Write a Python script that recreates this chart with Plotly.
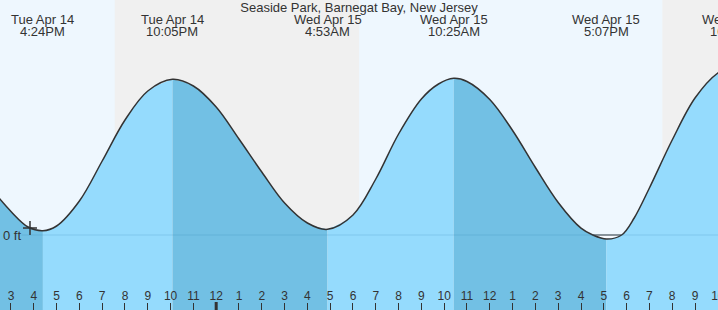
import plotly.graph_objects as go
import pandas as pd
import numpy as np

# ---------------- data ----------------
title_text = "Seaside Park, Barnegat Bay, New Jersey"

curve_times = [
    "2026-04-14 14:00", "2026-04-14 15:00", "2026-04-14 15:45", "2026-04-14 16:24",
    "2026-04-14 17:00", "2026-04-14 18:00", "2026-04-14 19:00", "2026-04-14 20:00",
    "2026-04-14 21:00", "2026-04-14 22:05", "2026-04-14 23:00",
    "2026-04-15 00:00", "2026-04-15 01:00", "2026-04-15 02:00", "2026-04-15 03:00",
    "2026-04-15 04:00", "2026-04-15 04:53", "2026-04-15 06:00",
    "2026-04-15 07:00", "2026-04-15 08:00", "2026-04-15 09:00", "2026-04-15 09:45",
    "2026-04-15 10:25", "2026-04-15 11:00", "2026-04-15 12:00", "2026-04-15 13:00",
    "2026-04-15 14:00", "2026-04-15 15:00", "2026-04-15 16:00", "2026-04-15 16:31",
    "2026-04-15 17:07", "2026-04-15 17:47", "2026-04-15 18:20",
    "2026-04-15 19:00", "2026-04-15 20:00", "2026-04-15 21:00", "2026-04-15 22:00",
    "2026-04-15 22:48",
]
curve_ft = [
    0.50, 0.235, 0.08, 0.043,
    0.09, 0.34, 0.74, 1.15,
    1.44, 1.557, 1.49,
    1.28, 0.96, 0.63, 0.32,
    0.12, 0.057, 0.20,
    0.56, 1.01, 1.36, 1.51,
    1.567, 1.535, 1.355, 1.045,
    0.675, 0.325, 0.068, 0.0,
    -0.04, 0.0, 0.17,
    0.47, 0.95, 1.37, 1.62,
    1.70,
]

extreme_times = ["2026-04-14 16:24", "2026-04-14 22:05", "2026-04-15 04:53",
                 "2026-04-15 10:25", "2026-04-15 17:07", "2026-04-15 22:48"]
extreme_date_labels = ["Tue Apr 14", "Tue Apr 14", "Wed Apr 15",
                       "Wed Apr 15", "Wed Apr 15", "Wed Apr 15"]
extreme_time_labels = ["4:24PM", "10:05PM", "4:53AM", "10:25AM", "5:07PM", "10:48PM"]

night_starts = ["2026-04-14 19:33", "2026-04-15 19:34"]   # sunset
night_ends = ["2026-04-15 06:16", "2026-04-16 06:15"]     # sunrise

now_time = ["2026-04-14 15:50"]
now_ft = [0.07]

view_start = "2026-04-14 14:31:05"
view_end = "2026-04-15 22:00:32"
y_range = [-0.75, 2.35]
zero_label = "0 ft"

tick_times = pd.date_range("2026-04-14 15:00", "2026-04-15 22:00", freq="h")
tick_labels = [str((t.hour + 11) % 12 + 1) for t in tick_times]
midnight = "2026-04-15 00:00"

# ---------------- styles ----------------
FONT = "Liberation Sans, Arial, sans-serif"
TXT = "#333333"
DAY_BG = "#eef7fe"
NIGHT_BG = "#f0f0f0"
RISE_FILL = "#95dbfd"
FALL_FILL = "#72c0e4"
H = 310

ct = pd.to_datetime(curve_times)
cv = np.array(curve_ft)
ext = pd.to_datetime(extreme_times)

fig = go.Figure()

# below-zero pocket (area between 0 ft and the curve where it dips below 0)
neg = cv <= 0
fig.add_trace(go.Scatter(x=ct[neg], y=np.zeros(neg.sum()), mode="lines",
                         line=dict(color=TXT, width=1), hoverinfo="skip", showlegend=False))
fig.add_trace(go.Scatter(x=ct[neg], y=cv[neg], mode="lines",
                         line=dict(width=0, shape="spline"), fill="tonexty",
                         fillcolor="#f8fbff", hoverinfo="skip", showlegend=False))

# filled segments: rising = light, falling = dark
bounds = [ct[0]] + list(ext) + [ct[-1]]
for b0, b1 in zip(bounds[:-1], bounds[1:]):
    m = (ct >= b0) & (ct <= b1)
    if m.sum() < 2:
        continue
    sx, sy = ct[m], cv[m]
    color = RISE_FILL if sy[-1] > sy[0] else FALL_FILL
    fig.add_trace(go.Scatter(x=sx, y=np.full(len(sx), y_range[0]), mode="lines",
                             line=dict(width=0), hoverinfo="skip", showlegend=False))
    fig.add_trace(go.Scatter(x=sx, y=sy, mode="lines",
                             line=dict(width=0, shape="spline"), fill="tonexty",
                             fillcolor=color, hoverinfo="skip", showlegend=False))

# tide curve
fig.add_trace(go.Scatter(x=ct, y=cv, mode="lines",
                         line=dict(color=TXT, width=1.5, shape="spline"),
                         hoverinfo="skip", showlegend=False))

# current-time marker
fig.add_trace(go.Scatter(x=pd.to_datetime(now_time), y=now_ft, mode="markers",
                         marker=dict(symbol="cross-thin", size=10,
                                     line=dict(color=TXT, width=1.5)),
                         hoverinfo="skip", showlegend=False))

shapes = []
for s, e in zip(night_starts, night_ends):
    shapes.append(dict(type="rect", xref="x", yref="paper", x0=s, x1=e, y0=0, y1=1,
                       fillcolor=NIGHT_BG, line=dict(width=0), layer="below"))
# 0 ft reference line
shapes.append(dict(type="line", xref="paper", yref="y", x0=0.03, x1=1, y0=0, y1=0,
                   line=dict(color="rgba(40,120,170,0.2)", width=1), layer="above"))
# midnight tick
shapes.append(dict(type="line", xref="x", yref="paper", x0=midnight, x1=midnight,
                   y0=0, y1=8 / H, line=dict(color=TXT, width=3), layer="above"))

t0, t1 = pd.Timestamp(view_start), pd.Timestamp(view_end)
annotations = []
for t, dl, tl in zip(ext, extreme_date_labels, extreme_time_labels):
    frac = (t - t0) / (t1 - t0)
    for txt, ypos in ((dl, 1 - 20 / H), (tl, 1 - 31.5 / H)):
        annotations.append(dict(xref="paper", yref="paper", x=frac, y=ypos,
                                text=txt, showarrow=False, xanchor="center",
                                yanchor="middle",
                                font=dict(family=FONT, size=13, color=TXT)))
annotations.append(dict(xref="paper", yref="y", x=0, y=0, xanchor="left",
                        yanchor="middle", xshift=1, text=zero_label, showarrow=False,
                        font=dict(family=FONT, size=13, color=TXT)))

fig.update_layout(
    width=718, height=H,
    margin=dict(l=0, r=0, t=0, b=0, autoexpand=False),
    paper_bgcolor=DAY_BG, plot_bgcolor=DAY_BG,
    title=dict(text=title_text, x=0.5, xanchor="center", y=1 - 7.5 / H,
               yanchor="middle", font=dict(family=FONT, size=13, color=TXT)),
    xaxis=dict(type="date", range=[view_start, view_end], showgrid=False,
               zeroline=False, showline=False, anchor="free", position=8 / H,
               side="top", ticks="inside", ticklen=8, automargin=False,
               tickwidth=1, tickcolor=TXT, tickvals=list(tick_times),
               ticktext=tick_labels, ticklabeloverflow="allow",
               tickfont=dict(family=FONT, size=12, color=TXT), fixedrange=True),
    yaxis=dict(range=y_range, showgrid=False, zeroline=False, showline=False,
               showticklabels=False, ticks="", automargin=False, fixedrange=True),
    shapes=shapes,
    annotations=annotations,
    showlegend=False,
)

fig.write_html("out.html")
